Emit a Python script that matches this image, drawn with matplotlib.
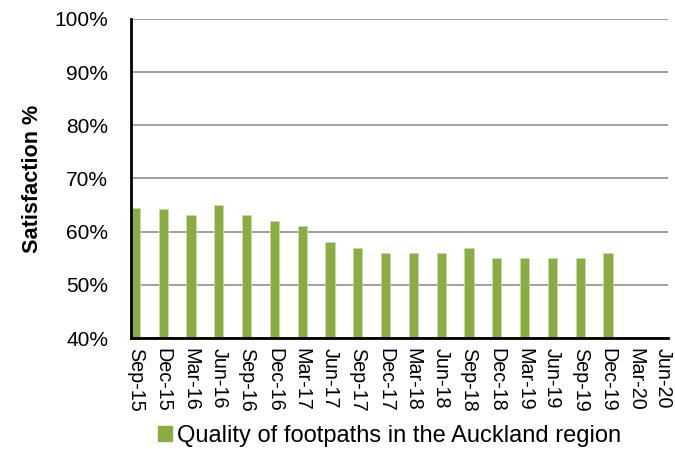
import matplotlib.pyplot as plt
from matplotlib.patches import Patch

# --- data ---
quarters = ['Sep-15', 'Dec-15', 'Mar-16', 'Jun-16', 'Sep-16', 'Dec-16', 'Mar-17',
            'Jun-17', 'Sep-17', 'Dec-17', 'Mar-18', 'Jun-18', 'Sep-18', 'Dec-18',
            'Mar-19', 'Jun-19', 'Sep-19', 'Dec-19', 'Mar-20', 'Jun-20']
satisfaction = [64.4, 64.3, 63.1, 65.1, 63.1, 62.0, 61.0, 58.0, 57.0, 56.0,
                56.0, 56.0, 57.0, 55.0, 55.0, 55.0, 55.0, 56.0]
yticks = [40, 50, 60, 70, 80, 90, 100]
series_name = 'Quality of footpaths in the Auckland region'

GREEN = '#8AAD43'
plt.rcParams['font.family'] = ['Liberation Sans', 'DejaVu Sans']

fig = plt.figure(figsize=(6.75, 4.49), dpi=100)
ax = fig.add_axes([0.194, 0.2472, 0.7956, 0.7105])

xs = list(range(len(satisfaction)))
ax.bar(xs, satisfaction, width=0.33, color=GREEN, edgecolor='#C9DAA8',
       linewidth=0.6, zorder=3)

ax.set_xlim(-0.16, len(quarters) - 1 + 0.16)
ax.set_ylim(40, 100)
ax.set_yticks(yticks)
ax.set_yticklabels([f'{v}%' for v in yticks], fontsize=15)
ax.set_xticks(range(len(quarters)))
ax.set_xticklabels(quarters, rotation=270, fontsize=14.2, va='top', ha='center')
ax.tick_params(length=0)
ax.tick_params(axis='x', pad=7)
ax.tick_params(axis='y', pad=16.5)

ax.grid(axis='y', color='#A0A0A0', linewidth=1.4, zorder=0)
for s in ['top', 'right']:
    ax.spines[s].set_visible(False)
for s in ['left', 'bottom']:
    ax.spines[s].set_linewidth(2)
    ax.spines[s].set_color('black')
    ax.spines[s].set_zorder(4)

ax.set_ylabel('Satisfaction %', fontsize=15.6, fontweight='bold')
ax.yaxis.set_label_coords(-0.163, 0.5)

fig.legend(handles=[Patch(color=GREEN, label=series_name)],
           loc='center', bbox_to_anchor=(0.577, 0.029), frameon=False,
           fontsize=17, handlelength=0.6, handleheight=0.6, handletextpad=0.2)

fig.savefig('out.png', dpi=100)
